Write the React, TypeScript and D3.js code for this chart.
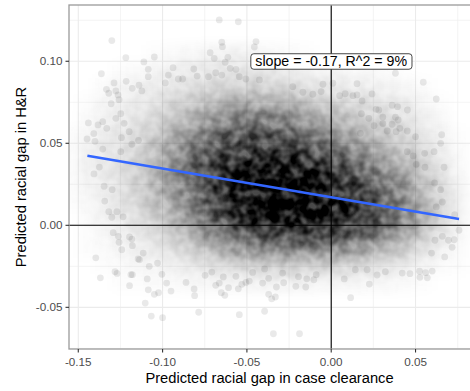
import { useEffect, useRef } from 'react'
import * as d3 from 'd3'

// panel limits (data units) and tick marks
const xDomain = [-0.1555, 0.0823]
const yDomain = [-0.0754, 0.1343]
const xTicks = [-0.15, -0.1, -0.05, 0, 0.05]
const xTickLabels = ['-0.15', '-0.10', '-0.05', '0.00', '0.05']
const xMinor = [-0.125, -0.075, -0.025, 0.025, 0.075]
const yTicks = [-0.05, 0, 0.05, 0.1]
const yTickLabels = ['-0.05', '0.00', '0.05', '0.10']
const yMinor = [-0.075, -0.025, 0.025, 0.075, 0.125]

// fitted line
const fitSlope = -0.175
const fitIntercept = 0.0171
const fitRange = [-0.1446, 0.0758]
const fitLabel = 'slope = -0.17, R^2 = 9%'

// density of the cloud, cells 0.01 x 0.01
const cellX = [-0.155, -0.145, -0.135, -0.125, -0.115, -0.105, -0.095, -0.085, -0.075, -0.065, -0.055, -0.045,
  -0.035, -0.025, -0.015, -0.005, 0.005, 0.015, 0.025, 0.035, 0.045, 0.055, 0.065, 0.075]
const cellY = [0.105, 0.095, 0.085, 0.075, 0.065, 0.055, 0.045, 0.035, 0.025, 0.015, 0.005, -0.005, -0.015, -0.025, -0.035]
const density = [
  [0, 0, 0, 0, 0, 0.01, 0.02, 0.03, 0.04, 0.05, 0.05, 0.04, 0.03, 0.02, 0.01, 0, 0, 0, 0, 0, 0, 0, 0, 0],
  [0, 0, 0, 0.01, 0.02, 0.04, 0.06, 0.07, 0.08, 0.09, 0.09, 0.09, 0.08, 0.07, 0.05, 0.04, 0.03, 0.02, 0.02, 0.01, 0, 0, 0, 0],
  [0, 0, 0.02, 0.04, 0.05, 0.07, 0.09, 0.11, 0.13, 0.15, 0.16, 0.16, 0.15, 0.13, 0.11, 0.09, 0.08, 0.07, 0.06, 0.04, 0.03, 0.01, 0, 0],
  [0, 0.01, 0.04, 0.06, 0.08, 0.1, 0.14, 0.19, 0.24, 0.28, 0.3, 0.31, 0.3, 0.27, 0.23, 0.19, 0.15, 0.13, 0.11, 0.09, 0.07, 0.04, 0.01, 0],
  [0, 0.02, 0.05, 0.07, 0.1, 0.14, 0.2, 0.28, 0.36, 0.42, 0.46, 0.48, 0.47, 0.43, 0.37, 0.31, 0.25, 0.2, 0.16, 0.13, 0.1, 0.06, 0.03, 0],
  [0.01, 0.04, 0.07, 0.09, 0.13, 0.2, 0.29, 0.39, 0.49, 0.57, 0.62, 0.64, 0.64, 0.6, 0.54, 0.46, 0.38, 0.31, 0.24, 0.19, 0.14, 0.09, 0.05, 0.01],
  [0.01, 0.05, 0.08, 0.11, 0.16, 0.24, 0.35, 0.47, 0.59, 0.68, 0.74, 0.77, 0.77, 0.74, 0.68, 0.6, 0.52, 0.43, 0.34, 0.27, 0.2, 0.13, 0.07, 0.02],
  [0.01, 0.05, 0.08, 0.12, 0.18, 0.27, 0.39, 0.53, 0.66, 0.76, 0.83, 0.87, 0.89, 0.87, 0.83, 0.76, 0.68, 0.58, 0.47, 0.37, 0.28, 0.18, 0.1, 0.03],
  [0.01, 0.04, 0.07, 0.11, 0.17, 0.26, 0.37, 0.51, 0.65, 0.78, 0.87, 0.93, 0.95, 0.95, 0.93, 0.87, 0.79, 0.69, 0.58, 0.47, 0.36, 0.24, 0.13, 0.05],
  [0.01, 0.03, 0.06, 0.1, 0.15, 0.23, 0.33, 0.47, 0.62, 0.76, 0.87, 0.94, 0.97, 0.97, 0.95, 0.91, 0.84, 0.76, 0.65, 0.54, 0.42, 0.28, 0.15, 0.06],
  [0, 0.02, 0.05, 0.08, 0.12, 0.18, 0.27, 0.38, 0.52, 0.66, 0.78, 0.87, 0.92, 0.94, 0.93, 0.89, 0.83, 0.76, 0.66, 0.55, 0.43, 0.29, 0.15, 0.06],
  [0, 0.01, 0.03, 0.06, 0.09, 0.13, 0.19, 0.27, 0.38, 0.49, 0.59, 0.66, 0.7, 0.72, 0.72, 0.7, 0.66, 0.6, 0.52, 0.43, 0.32, 0.21, 0.11, 0.04],
  [0, 0.01, 0.02, 0.04, 0.06, 0.08, 0.11, 0.16, 0.23, 0.3, 0.36, 0.41, 0.44, 0.45, 0.45, 0.44, 0.41, 0.37, 0.32, 0.25, 0.18, 0.11, 0.05, 0.02],
  [0, 0, 0.01, 0.02, 0.03, 0.04, 0.06, 0.08, 0.1, 0.12, 0.14, 0.16, 0.17, 0.17, 0.17, 0.16, 0.15, 0.13, 0.11, 0.09, 0.06, 0.04, 0.02, 0.01],
  [0, 0, 0, 0.01, 0.01, 0.02, 0.02, 0.03, 0.03, 0.04, 0.04, 0.05, 0.05, 0.05, 0.05, 0.04, 0.04, 0.04, 0.03, 0.03, 0.02, 0.01, 0, 0],
]

// the loose points around the edge of the cloud
const ptX = [
  -0.1301, -0.1218, -0.1111, -0.1049, -0.1363, -0.1288, -0.1333, -0.1319, -0.1277, -0.1264, -0.1258, -0.1305,
  -0.1216, -0.118, -0.114, -0.1123, -0.1085, -0.1085, -0.144, -0.1355, -0.1383, -0.1331, -0.1408, -0.1448,
  -0.1401, -0.1355, -0.1248, -0.1277, -0.1228, -0.1244, -0.1375, -0.1407, -0.1198, -0.1182, -0.1143, -0.1248,
  -0.1347, -0.1299, -0.1343, -0.1319, -0.1271, -0.1301, -0.1234, -0.1293, -0.1262, -0.1258, -0.1242, -0.1396,
  -0.1369, -0.1282, -0.127, -0.1188, -0.1179, -0.1196, -0.1137, -0.1091, -0.1085, -0.1103, -0.1049, -0.1024,
  -0.1067, -0.1, -0.1004, -0.0976, -0.095, -0.0861, -0.081, -0.0786, -0.0813, -0.1079, -0.103, -0.1179,
  -0.1145, -0.1115, -0.1182, -0.1196,
  -0.0545, -0.0395, -0.0343, -0.0188, -0.0652, -0.0631, -0.0685, -0.0609, -0.0551, -0.0466, -0.0407, -0.0371,
  -0.0325, -0.0282, -0.0371, -0.0353, -0.0331, -0.021, -0.0151, -0.0194, -0.0145, -0.0103, -0.0089, -0.0288,
  -0.0395, -0.0506, -0.0486, -0.0565, -0.064, -0.0708, -0.0748, -0.053, -0.0664,
  0.0115, 0.0226, 0.0272, 0.0321, 0.0421, 0.0467, 0.0524, 0.056, 0.0599, 0.057, 0.0526, 0.0077,
  0.0143, 0.0213, 0.0758, 0.0717, 0.0673, 0.0729, 0.0695, 0.0659, 0.0615, 0.0595, 0.0732, 0.0659,
  0.0623, 0.0649, 0.0613,
  0.0153, 0.0546, 0.0623, 0.005, 0.0083, 0.0129, 0.0153, 0.0183, 0.0242, 0.0179, 0.0266, 0.0282,
  0.0361, 0.0393, 0.0452, 0.0381, 0.0306, 0.0397, 0.0223, 0.0306, 0.0361, 0.0254, 0.0407, 0.0451,
  0.05, 0.0655, 0.0649, 0.0554, 0.061, 0.0669, 0.0556, 0.0504, 0.0486, 0.0451, 0.0385, 0.0332,
  0.0173, 0.0381,
  -0.0664, -0.0551, -0.0649, -0.0645, -0.0718, -0.0694, -0.0629, -0.0613, -0.0446, -0.0456, -0.0565, -0.0599,
  -0.0685, -0.0728, -0.0649, -0.0545, -0.0506, -0.0426, -0.0049, 0.001, -0.0228, -0.0168, -0.0109, -0.006,
  -0.0938, -0.0907, -0.0881, -0.0815, -0.0795, -0.0966, -0.0984,
]
const ptY = [
  0.1126, 0.1022, 0.0996, 0.1026, 0.0924, 0.0868, 0.0829, 0.0805, 0.0819, 0.0795, 0.0766, 0.0741,
  0.0878, 0.0835, 0.0854, 0.0819, 0.0951, 0.0906, 0.0624, 0.0632, 0.0612, 0.0591, 0.0559, 0.0526,
  0.0512, 0.0465, 0.068, 0.0652, 0.0622, 0.0534, 0.0355, 0.0313, 0.0571, 0.0494, 0.0518, 0.0449,
  0.0238, 0.0217, 0.0148, 0.0083, 0.0083, 0.0049, 0.0052, -0.0045, -0.0067, -0.0104, -0.0149, -0.0198,
  -0.032, -0.0283, -0.0293, -0.0301, -0.0301, -0.0368, -0.021, -0.0327, -0.0393, -0.0474, -0.0421, -0.0411,
  -0.0553, -0.0563, -0.0299, -0.0352, -0.0401, -0.0348, -0.0429, -0.053, -0.0388, -0.025, -0.023, -0.0124,
  -0.0205, -0.0169, -0.0084, -0.0071,
  -0.0545, -0.0524, -0.0661, -0.0661, -0.0411, -0.0427, -0.0366, -0.038, -0.0387, -0.0287, -0.0352, -0.0323,
  -0.0376, -0.035, -0.0421, -0.0448, -0.0437, -0.0372, -0.0376, -0.0313, -0.0326, -0.0332, -0.0301, -0.0291,
  -0.0266, -0.0348, -0.034, -0.0311, -0.0315, -0.0285, -0.0305, -0.036, -0.0352,
  -0.0441, -0.0358, -0.0303, -0.0283, -0.0291, -0.0295, -0.028, -0.0289, -0.0279, -0.032, -0.0317, -0.0327,
  -0.0271, -0.0271, -0.003, -0.0134, -0.0193, -0.0088, -0.0091, -0.0067, -0.0091, -0.0169, 0.0065, 0.0142,
  0.0112, 0.0217, 0.0258,
  0.0863, 0.0872, 0.077, 0.079, 0.0802, 0.079, 0.0795, 0.0758, 0.0801, 0.068, 0.0707, 0.0703,
  0.0732, 0.0723, 0.0703, 0.0659, 0.066, 0.0642, 0.0652, 0.062, 0.0616, 0.0607, 0.0591, 0.0575,
  0.054, 0.0552, 0.05, 0.0439, 0.0449, 0.0354, 0.0354, 0.0372, 0.0423, 0.0449, 0.0571, 0.0575,
  0.0561, 0.0927,
  0.1252, 0.1241, 0.1116, 0.1089, 0.1052, 0.1018, 0.0994, 0.1024, 0.112, 0.1087, 0.0951, 0.0957,
  0.093, 0.0906, 0.0916, 0.0906, 0.0892, 0.0886, 0.086, 0.0866, 0.0845, 0.0811, 0.0799, 0.0815,
  0.0961, 0.0892, 0.0892, 0.0953, 0.091, 0.0916, 0.0868,
]

const FONT = '"Liberation Sans", Arial, Helvetica, sans-serif'

export default function App() {
  const svgRef = useRef<SVGSVGElement | null>(null)

  useEffect(() => {
    if (!svgRef.current) return
    const svg = d3.select(svgRef.current)
    svg.selectAll('*').remove()

    const margin = { top: 5, right: 0, bottom: 42, left: 69 }
    const width = 470, height = 391
    const x = d3.scaleLinear().domain(xDomain).range([margin.left, width - margin.right])
    const y = d3.scaleLinear().domain(yDomain).range([height - margin.bottom, margin.top])
    const [x0, x1] = x.range()
    const [y1, y0] = y.range()

    const defs = svg.append('defs')
    defs.append('clipPath').attr('id', 'panel-clip').append('rect')
      .attr('x', x0).attr('y', y0).attr('width', x1 - x0).attr('height', y1 - y0)

    // blur the cells, then mottle them a bit so it reads like overlapping dots
    const soft = defs.append('filter').attr('id', 'soft')
      .attr('filterUnits', 'userSpaceOnUse').attr('color-interpolation-filters', 'sRGB')
      .attr('x', 0).attr('y', 0).attr('width', width).attr('height', height)
    soft.append('feGaussianBlur').attr('in', 'SourceGraphic').attr('stdDeviation', 5.5).attr('result', 'b')
    soft.append('feTurbulence').attr('type', 'fractalNoise').attr('baseFrequency', 0.1)
      .attr('numOctaves', 2).attr('seed', 7).attr('result', 't')
    soft.append('feColorMatrix').attr('in', 't').attr('type', 'matrix')
      .attr('values', '0 0 0 0 0  0 0 0 0 0  0 0 0 0 0  1 0 0 0 0').attr('result', 'n0')
    soft.append('feComponentTransfer').attr('in', 'n0').attr('result', 'n')
      .append('feFuncA').attr('type', 'linear').attr('slope', 2).attr('intercept', -0.5)
    soft.append('feComposite').attr('in', 'b').attr('in2', 'n').attr('operator', 'arithmetic')
      .attr('k1', 0.55).attr('k2', 0.78).attr('k3', 0).attr('k4', 0)

    // grid
    const grid = svg.append('g')
    xMinor.forEach(v => grid.append('line').attr('x1', x(v)).attr('x2', x(v)).attr('y1', y0).attr('y2', y1)
      .attr('stroke', '#efefef').attr('stroke-width', 0.7))
    yMinor.forEach(v => grid.append('line').attr('y1', y(v)).attr('y2', y(v)).attr('x1', x0).attr('x2', x1)
      .attr('stroke', '#efefef').attr('stroke-width', 0.7))
    xTicks.forEach(v => grid.append('line').attr('x1', x(v)).attr('x2', x(v)).attr('y1', y0).attr('y2', y1)
      .attr('stroke', '#ebebeb').attr('stroke-width', 1.1))
    yTicks.forEach(v => grid.append('line').attr('y1', y(v)).attr('y2', y(v)).attr('x1', x0).attr('x2', x1)
      .attr('stroke', '#ebebeb').attr('stroke-width', 1.1))

    const panel = svg.append('g').attr('clip-path', 'url(#panel-clip)')

    // dense part as blurred cells
    const half = 0.005
    const core = panel.append('g').attr('filter', 'url(#soft)')
    density.forEach((row, i) => row.forEach((v, j) => {
      if (!v) return
      core.append('rect')
        .attr('x', x(cellX[j] - half)).attr('y', y(cellY[i] + half))
        .attr('width', x(cellX[j] + half) - x(cellX[j] - half))
        .attr('height', y(cellY[i] - half) - y(cellY[i] + half))
        .attr('fill', '#000').attr('fill-opacity', v)
    }))

    // loose points
    panel.selectAll('.pt').data(ptX.map((v, i) => [v, ptY[i]])).enter().append('circle')
      .attr('cx', d => x(d[0])).attr('cy', d => y(d[1])).attr('r', 3.4)
      .attr('fill', '#000').attr('fill-opacity', 0.085)

    // zero lines
    panel.append('line').attr('x1', x(0)).attr('x2', x(0)).attr('y1', y0).attr('y2', y1)
      .attr('stroke', '#000').attr('stroke-width', 1.1)
    panel.append('line').attr('x1', x0).attr('x2', x1).attr('y1', y(0)).attr('y2', y(0))
      .attr('stroke', '#000').attr('stroke-width', 1.1)

    // fit
    panel.append('line')
      .attr('x1', x(fitRange[0])).attr('y1', y(fitIntercept + fitSlope * fitRange[0]))
      .attr('x2', x(fitRange[1])).attr('y2', y(fitIntercept + fitSlope * fitRange[1]))
      .attr('stroke', '#3366FF').attr('stroke-width', 2.6)

    // label
    const lab = svg.append('g')
    const box = lab.append('rect')
    const txt = lab.append('text').attr('x', x(0)).attr('y', y(0.1)).attr('dy', '0.35em')
      .attr('text-anchor', 'middle').attr('font-size', 14.2).attr('font-family', FONT).attr('fill', '#000')
      .text(fitLabel)
    const bb = (txt.node() as SVGTextElement).getBBox()
    box.attr('x', bb.x - 4.5).attr('y', bb.y + 0.5).attr('width', bb.width + 9).attr('height', bb.height - 0.5)
      .attr('rx', 3).attr('fill', '#fff').attr('stroke', '#333').attr('stroke-width', 0.9)

    // border
    svg.append('rect').attr('x', x0).attr('y', y0).attr('width', x1 - x0 + 2).attr('height', y1 - y0)
      .attr('fill', 'none').attr('stroke', '#9a9a9a').attr('stroke-width', 1.3)

    // axes
    const ax = svg.append('g').attr('font-family', FONT)
    xTicks.forEach((v, i) => {
      ax.append('line').attr('x1', x(v)).attr('x2', x(v)).attr('y1', y1).attr('y2', y1 + 3.5)
        .attr('stroke', '#333').attr('stroke-width', 1.1)
      ax.append('text').attr('x', x(v)).attr('y', y1 + 17).attr('text-anchor', 'middle')
        .attr('font-size', 11.7).attr('fill', '#4d4d4d').text(xTickLabels[i])
    })
    yTicks.forEach((v, i) => {
      ax.append('line').attr('x1', x0 - 3.5).attr('x2', x0).attr('y1', y(v)).attr('y2', y(v))
        .attr('stroke', '#333').attr('stroke-width', 1.1)
      ax.append('text').attr('x', x0 - 6.5).attr('y', y(v)).attr('dy', '0.35em').attr('text-anchor', 'end')
        .attr('font-size', 11.7).attr('fill', '#4d4d4d').text(yTickLabels[i])
    })
    ax.append('text').attr('x', (x0 + x1) / 2).attr('y', 383).attr('text-anchor', 'middle')
      .attr('font-size', 14.7).attr('fill', '#000').text('Predicted racial gap in case clearance')
    ax.append('text').attr('transform', `translate(26,${(y0 + y1) / 2}) rotate(-90)`)
      .attr('text-anchor', 'middle').attr('font-size', 14.7).attr('fill', '#000')
      .text('Predicted racial gap in H&R')
  }, [])

  return (
    <svg ref={svgRef} width={470} height={391}
      style={{ position: 'absolute', left: 0, top: 0, background: '#fff' }} />
  )
}
